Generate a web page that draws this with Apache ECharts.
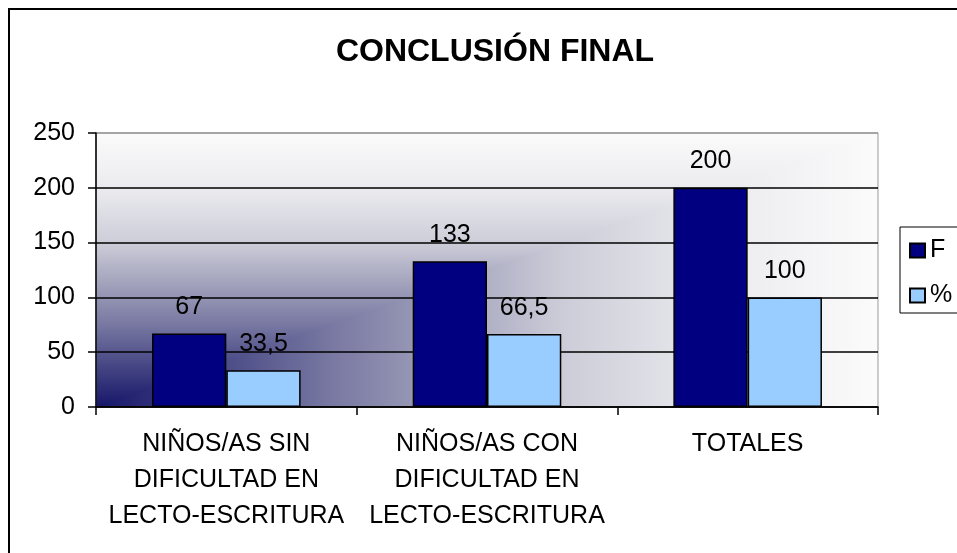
<!DOCTYPE html>
<html>
<head>
<meta charset="utf-8">
<script src="https://cdn.jsdelivr.net/npm/echarts@6/dist/echarts.min.js"></script>
<style>
html,body{margin:0;padding:0;background:#fff;}
#c{width:957px;height:553px;}
</style>
</head>
<body>
<div id="c"></div>
<script>
const categories = ['NIÑOS/AS SIN\nDIFICULTAD EN\nLECTO-ESCRITURA', 'NIÑOS/AS CON\nDIFICULTAD EN\nLECTO-ESCRITURA', 'TOTALES'];
const seriesF = [67, 133, 200];
const seriesPct = [33.5, 66.5, 100];
const yTicks = { min: 0, max: 250, interval: 50 };

const G = { left: 96, top: 133, width: 782, height: 274 };
const FONT = '"Liberation Sans", Arial, sans-serif';
const gradStops = [
  { offset: 0, color: '#16166a' },
  { offset: 0.15, color: '#464684' },
  { offset: 0.3, color: '#7878a2' },
  { offset: 0.45, color: '#a2a2bc' },
  { offset: 0.6, color: '#cdcdd9' },
  { offset: 0.8, color: '#ebebef' },
  { offset: 1, color: '#fbfbfb' }
];
const fmt = p => String(p.value).replace('.', ',');

const chart = echarts.init(document.getElementById('c'));
chart.setOption({
  backgroundColor: '#fff',
  animation: false,
  title: {
    text: 'CONCLUSIÓN FINAL',
    left: 490, top: 31, textAlign: 'center',
    textStyle: { fontFamily: FONT, fontSize: 32, fontWeight: 'bold', color: '#000' }
  },
  legend: {
    orient: 'vertical', left: 900, top: 227,
    padding: [11, 30, 5, 9], itemGap: 20, itemWidth: 15, itemHeight: 14,
    icon: 'rect',
    borderColor: '#000', borderWidth: 1, backgroundColor: '#fff',
    textStyle: { fontFamily: FONT, fontSize: 25, color: '#000' },
    data: ['F', '%']
  },
  graphic: [
    {
      type: 'rect', z: -11, silent: true,
      shape: { x: G.left, y: G.top, width: G.width, height: G.height },
      style: { fill: new echarts.graphic.LinearGradient(0, 1, 0, 0, gradStops) }
    },
    {
      type: 'polygon', z: -10, silent: true,
      shape: { points: [[G.left, G.top + G.height], [G.left + G.width, G.top + G.height], [G.left + G.width, G.top]] },
      style: { fill: new echarts.graphic.LinearGradient(0, 0, 1, 0, gradStops) }
    },
    {
      type: 'rect', z: 100, silent: true,
      shape: { x: 9, y: 9, width: 1100, height: 1100 },
      style: { fill: 'none', stroke: '#000', lineWidth: 2 }
    }
  ],
  grid: {
    left: G.left, top: G.top, width: G.width, height: G.height,
    show: true, backgroundColor: 'transparent', borderColor: '#999', borderWidth: 1
  },
  xAxis: {
    type: 'category', data: categories,
    axisLine: { lineStyle: { color: '#000', width: 1.5 } },
    axisTick: { show: true, interval: 0, length: 8, lineStyle: { color: '#000', width: 1.5 } },
    axisLabel: { interval: 0, margin: 19, fontFamily: FONT, fontSize: 25, lineHeight: 36, color: '#000' }
  },
  yAxis: {
    type: 'value', min: yTicks.min, max: yTicks.max, interval: yTicks.interval,
    axisLine: { show: true, lineStyle: { color: '#000', width: 1.5 } },
    axisTick: { show: true, length: 8, lineStyle: { color: '#000', width: 1.5 } },
    axisLabel: { margin: 21, fontFamily: FONT, fontSize: 25, color: '#000' },
    splitLine: { show: true, lineStyle: { color: ['#000', '#000', '#000', '#000', '#000', '#999'], width: 1.5 } }
  },
  series: [
    {
      name: 'F', type: 'bar', data: seriesF, barGap: '0%', barCategoryGap: '43%',
      itemStyle: { color: '#000080', borderColor: '#000', borderWidth: 1.5 },
      label: { show: true, position: 'top', distance: 14, formatter: fmt, fontFamily: FONT, fontSize: 25, color: '#000' }
    },
    {
      name: '%', type: 'bar', data: seriesPct, barGap: '0%', barCategoryGap: '43%',
      itemStyle: { color: '#99ccff', borderColor: '#000', borderWidth: 1.5 },
      label: { show: true, position: 'top', distance: 14, formatter: fmt, fontFamily: FONT, fontSize: 25, color: '#000' }
    }
  ]
});
</script>
</body>
</html>
